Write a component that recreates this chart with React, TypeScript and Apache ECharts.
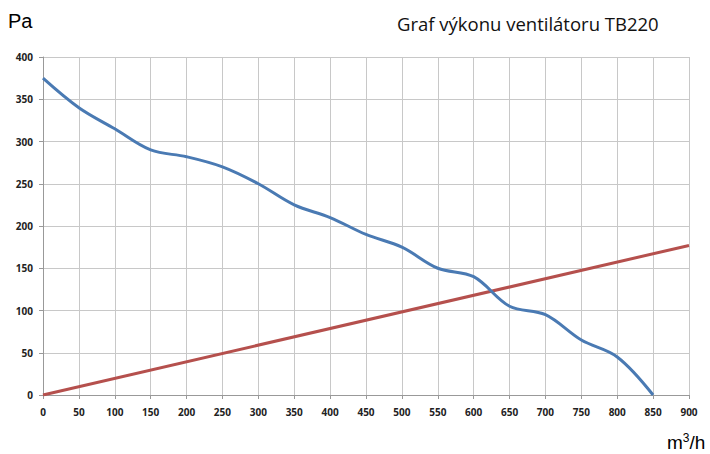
import React, { useEffect, useRef } from "react";
import * as echarts from "echarts";

const xTicks = [0, 50, 100, 150, 200, 250, 300, 350, 400, 450, 500, 550, 600, 650, 700, 750, 800, 850];
const fanPressure = [375, 340, 315, 290, 282, 270, 250, 225, 210, 190, 175, 150, 140, 105, 95, 65, 45, 0];
const systemX = [0, 900];
const systemY = [0, 177];

export default function App() {
  const ref = useRef<HTMLDivElement>(null);
  useEffect(() => {
    if (!ref.current) return;
    const chart = echarts.init(ref.current, null, { renderer: "svg" });
    const labelStyle = {
      fontFamily: "Open Sans, sans-serif",
      fontSize: 10,
      fontWeight: "bold" as const,
      color: "#222",
    };
    chart.setOption({
      animation: false,
      backgroundColor: "#ffffff",
      grid: { left: 43, right: 21, top: 57, bottom: 59, containLabel: false },
      graphic: [
        {
          type: "text",
          left: 8,
          top: 11,
          style: { text: "Pa", font: "20px 'Liberation Sans', Arial, sans-serif", fill: "#000" },
        },
        {
          type: "text",
          left: 397,
          top: 14,
          style: { text: "Graf výkonu ventilátoru TB220", font: "18.5px 'Open Sans', sans-serif", fill: "#111" },
        },
        {
          type: "text",
          left: 667,
          top: 432,
          style: {
            rich: {
              a: { font: "19px 'Liberation Sans', Arial, sans-serif", fill: "#000" },
              s: { font: "12px 'Liberation Sans', Arial, sans-serif", fill: "#000", verticalAlign: "top", padding: [0, 0, 9, 0] },
            },
            text: "{a|m}{s|3}{a|/h}",
          },
        },
      ],
      xAxis: {
        type: "value",
        min: 0,
        max: 900,
        interval: 50,
        axisLine: { show: true, lineStyle: { color: "#999", width: 1 } },
        axisTick: { show: true, length: 4, lineStyle: { color: "#999" } },
        splitLine: { show: true, lineStyle: { color: "#c8c8c8", width: 1 } },
        axisLabel: { ...labelStyle, margin: 12 },
      },
      yAxis: {
        type: "value",
        min: 0,
        max: 400,
        interval: 50,
        axisLine: { show: true, lineStyle: { color: "#999", width: 1 } },
        axisTick: { show: true, length: 4, lineStyle: { color: "#999" } },
        splitLine: { show: true, lineStyle: { color: "#c8c8c8", width: 1 } },
        axisLabel: { ...labelStyle, margin: 10 },
      },
      series: [
        {
          type: "line",
          data: systemX.map((x, i) => [x, systemY[i]]),
          showSymbol: false,
          lineStyle: { color: "#b5504d", width: 3 },
          z: 2,
        },
        {
          type: "line",
          data: xTicks.map((x, i) => [x, fanPressure[i]]),
          smooth: 0.35,
          showSymbol: false,
          lineStyle: { color: "#4a7ab3", width: 3 },
          z: 3,
        },
      ],
    });
    return () => chart.dispose();
  }, []);
  return <div ref={ref} style={{ width: 710, height: 454, position: "absolute", left: 0, top: 0 }} />;
}
